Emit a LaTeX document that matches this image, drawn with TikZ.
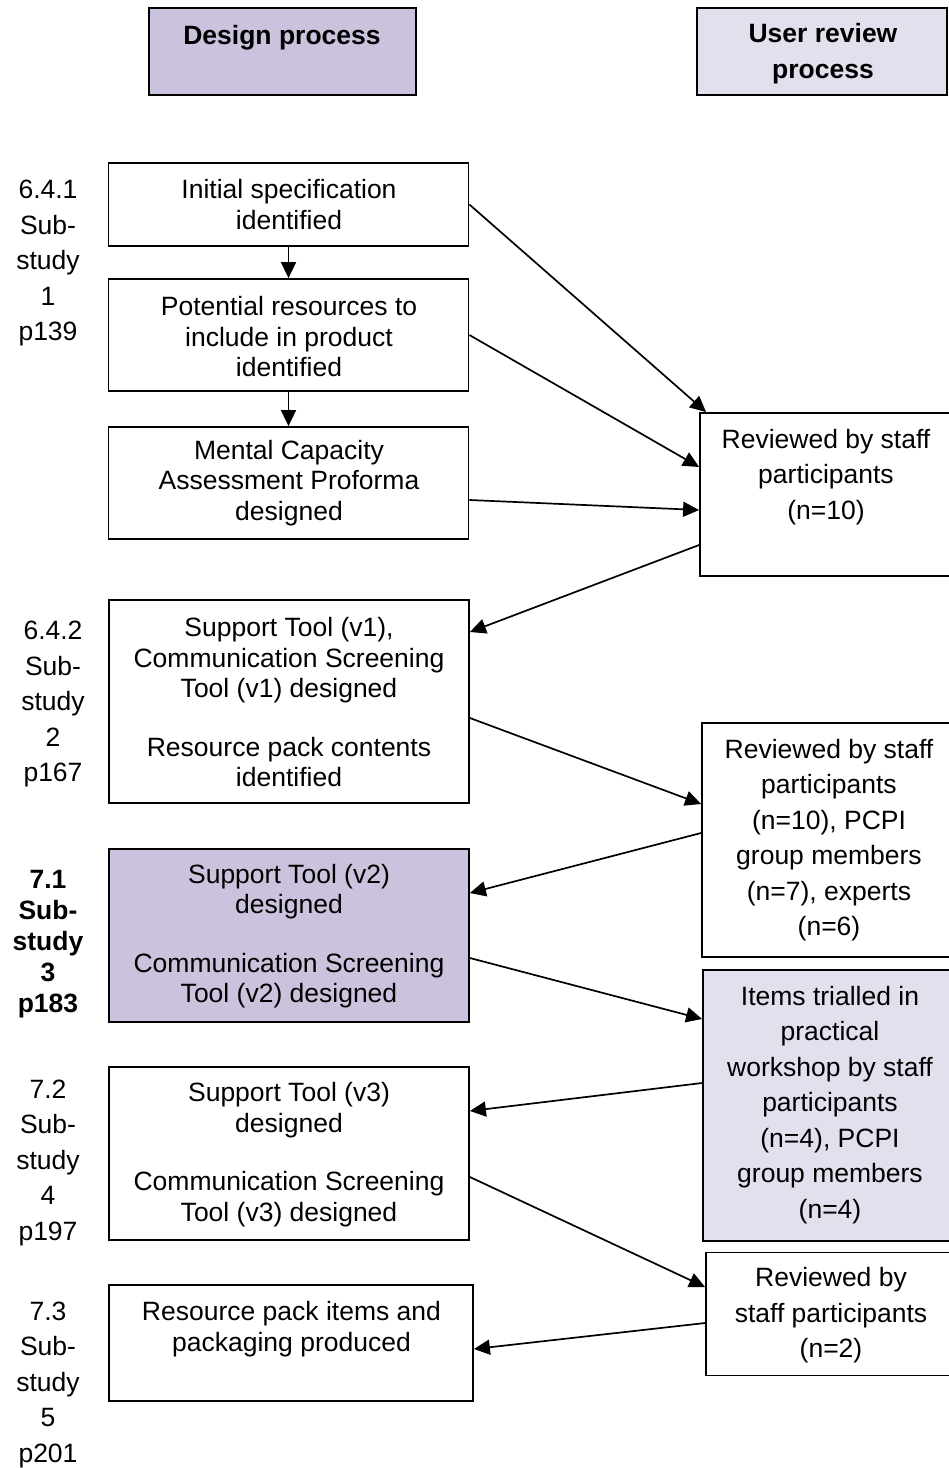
\documentclass[tikz,border=0pt]{standalone}
\usepackage{fontspec}
\setmainfont{Liberation Sans}
\usetikzlibrary{arrows.meta}

\definecolor{designfill}{HTML}{CBC3DD}
\definecolor{reviewfill}{HTML}{E4DFED}

\tikzset{
  box/.style={draw=black, line width=1.8pt, inner sep=0pt},
  txt/.style={align=center, inner sep=0pt, font=\fontsize{26.5}{30.5}\selectfont},
  rtxt/.style={align=center, inner sep=0pt, font=\fontsize{26.5}{35.5}\selectfont},
  btxt/.style={align=center, inner sep=0pt, font=\fontsize{26.5}{31}\selectfont\bfseries},
  flow/.style={line width=1.7pt, -{Triangle[length=16pt,width=15pt]}},
}

\begin{document}
\begin{tikzpicture}[x=1pt,y=-1pt]
\useasboundingbox (0,0) rectangle (949,1468);
\clip (0,0) rectangle (949,1468);

% column headers
\node[box, fill=designfill, minimum width=267, minimum height=87] (hd) at (282.5,51.5) {};
\node[btxt] (hdt) at (282,38) {Design process};
\node[box, fill=reviewfill, minimum width=250, minimum height=87] (hr) at (822,51.5) {};
\node[btxt, font=\fontsize{26.5}{36}\selectfont\bfseries] (hrt) at (823,54) {User review\\process};

% design process boxes
\node[box, minimum width=360, minimum height=83] (A) at (288.5,204.5) {};
\node[txt] at (289,204.5) {Initial specification\\identified};
\node[box, minimum width=360, minimum height=112] (B) at (288.5,335) {};
\node[txt] at (289,337) {Potential resources to\\include in product\\identified};
\node[box, minimum width=360, minimum height=112] (C) at (288.5,483) {};
\node[txt] at (289,483) {Mental Capacity\\Assessment Proforma\\designed};
\node[box, minimum width=360, minimum height=203] (D) at (289,701.5) {};
\node[txt] at (289,702.5) {Support Tool (v1),\\Communication Screening\\Tool (v1) designed\\[28pt]Resource pack contents\\identified};
\node[box, fill=designfill, minimum width=360, minimum height=173] (E) at (289,935.5) {};
\node[txt] at (289,936) {Support Tool (v2)\\designed\\[28pt]Communication Screening\\Tool (v2) designed};
\node[box, minimum width=360, minimum height=173] (F) at (289,1153.5) {};
\node[txt] at (289,1154.5) {Support Tool (v3)\\designed\\[28pt]Communication Screening\\Tool (v3) designed};
\node[box, minimum width=364, minimum height=116] (G) at (291,1343) {};
\node[txt] at (291.5,1329) {Resource pack items and\\packaging produced};

% user review boxes
\node[box, minimum width=255, minimum height=163] (R1) at (827.5,494.5) {};
\node[rtxt] at (826,477) {Reviewed by staff\\participants\\(n=10)};
\node[box, minimum width=253, minimum height=234] (R2) at (828.5,840) {};
\node[rtxt] at (829,840) {Reviewed by staff\\participants\\(n=10), PCPI\\group members\\(n=7), experts\\(n=6)};
\node[box, fill=reviewfill, minimum width=252, minimum height=271] (R3) at (829,1105.5) {};
\node[rtxt] at (830,1105) {Items trialled in\\practical\\workshop by staff\\participants\\(n=4), PCPI\\group members\\(n=4)};
\node[box, minimum width=249, minimum height=123] (R4) at (830.5,1314) {};
\node[rtxt] at (831,1315.5) {Reviewed by\\staff participants\\(n=2)};

% sub-study labels
\node[rtxt] (L1) at (48,263) {6.4.1\\Sub-\\study\\1\\p139};
\node[rtxt] (L2) at (53,704) {6.4.2\\Sub-\\study\\2\\p167};
\node[btxt] (L3) at (48,944) {7.1\\Sub-\\study\\3\\p183};
\node[rtxt] (L4) at (48,1162.5) {7.2\\Sub-\\study\\4\\p197};
\node[rtxt] (L5) at (48,1384.5) {7.3\\Sub-\\study\\5\\p201};

% connectors
\draw[flow] (A.south) -- (B.north);
\draw[flow] (B.south) -- (C.north);
\draw[flow] (A.east) -- ([xshift=7]R1.north west);
\draw[flow] (B.east) -- (R1.west |- 0,467);
\draw[flow] (C.east |- 0,500) -- (R1.west |- 0,510);
\draw[flow] (R1.west |- 0,545) -- (D.east |- 0,632);
\draw[flow] (D.east |- 0,718) -- (R2.west |- 0,804);
\draw[flow] (R2.west |- 0,833) -- (E.east |- 0,893);
\draw[flow] (E.east |- 0,958) -- (R3.west |- 0,1019);
\draw[flow] (R3.west |- 0,1083) -- (F.east |- 0,1111);
\draw[flow] (F.east |- 0,1177) -- (R4.west |- 0,1287);
\draw[flow] (R4.west |- 0,1323) -- (G.east |- 0,1349);
\end{tikzpicture}
\end{document}
